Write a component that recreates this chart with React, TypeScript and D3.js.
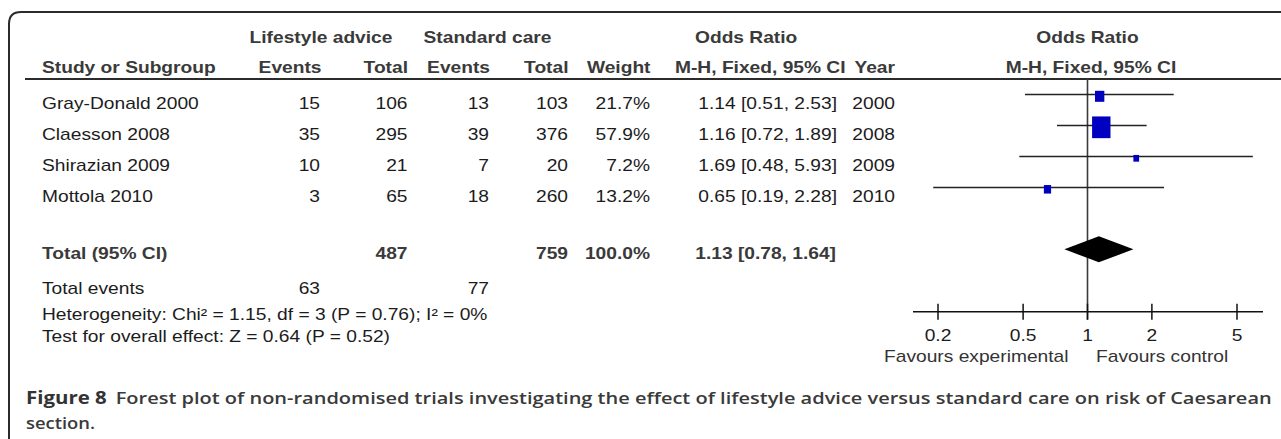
import React from 'react'
import * as d3 from 'd3'

const studies = ['Gray-Donald 2000', 'Claesson 2008', 'Shirazian 2009', 'Mottola 2010']
const expEvents = [15, 35, 10, 3]
const expTotal = [106, 295, 21, 65]
const ctrlEvents = [13, 39, 7, 18]
const ctrlTotal = [103, 376, 20, 260]
const weights = [21.7, 57.9, 7.2, 13.2]
const orMid = [1.14, 1.16, 1.69, 0.65]
const orLow = [0.51, 0.72, 0.48, 0.19]
const orHigh = [2.53, 1.89, 5.93, 2.28]
const years = [2000, 2008, 2009, 2010]

const totalN = [487, 759]
const totalWeight = 100.0
const totalOR = [1.13, 0.78, 1.64] // mid, low, high
const totalEvents = [63, 77]
const axisTicks = [0.2, 0.5, 1, 2, 5]

const width = 1281
const height = 439
const fnt = '"Liberation Sans", Arial, Helvetica, sans-serif'

function T(props: any) {
    const { x, y, anchor, bold, children, fill } = props
    return (
        <text
            transform={'translate(' + x + ',' + y + ') scale(1.2,1)'}
            textAnchor={anchor || 'start'}
            fontFamily={fnt}
            fontSize={16}
            fontWeight={bold ? 'bold' : 'normal'}
            fill={fill || (bold ? '#3a3a3a' : '#1c1c1c')}
        >
            {children}
        </text>
    )
}

const ci = (m: number, l: number, h: number) =>
    m.toFixed(2) + ' [' + l.toFixed(2) + ', ' + h.toFixed(2) + ']'

export default function App() {
    const x = d3.scaleLog().domain([0.2, 5]).range([938, 1237])
    const y = d3.scaleLinear().domain([0, 3]).range([94.5, 187.5])
    const box = d3.scaleLinear()
        .domain(d3.extent(weights) as [number, number])
        .range([5.7, 18.4])

    const totalY = 249.3
    const axisY = 311.7
    const x1 = x(1)

    const diamond = d3.line()([
        [x(totalOR[1]), totalY],
        [x(totalOR[0]), totalY - 13],
        [x(totalOR[2]), totalY],
        [x(totalOR[0]), totalY + 13],
    ]) + 'Z'

    return (
        <svg width={width} height={height}
            style={{ position: 'absolute', left: 0, top: 0, background: '#fff' }}>
            {/* frame */}
            <path d="M9,445 L9,24 Q9,12 21,12 L1290,12" fill="none" stroke="#2b2b2b" strokeWidth={2} />

            {/* headers */}
            <T x={321} y={43} anchor="middle" bold>Lifestyle advice</T>
            <T x={487.5} y={43} anchor="middle" bold>Standard care</T>
            <T x={695} y={43} bold>Odds Ratio</T>
            <T x={1087.5} y={43} anchor="middle" bold>Odds Ratio</T>
            <T x={42} y={72.5} bold>Study or Subgroup</T>
            <T x={321.5} y={72.5} anchor="end" bold>Events</T>
            <T x={408} y={72.5} anchor="end" bold>Total</T>
            <T x={490} y={72.5} anchor="end" bold>Events</T>
            <T x={568.5} y={72.5} anchor="end" bold>Total</T>
            <T x={650.5} y={72.5} anchor="end" bold>Weight</T>
            <T x={675} y={72.5} bold>M-H, Fixed, 95% CI</T>
            <T x={895} y={72.5} anchor="end" bold>Year</T>
            <T x={1091} y={72.5} anchor="middle" bold>M-H, Fixed, 95% CI</T>
            <line x1={25} x2={1281} y1={79} y2={79} stroke="#2b2b2b" strokeWidth={2} />

            {/* study rows */}
            {studies.map((s, i) => {
                const ty = y(i) + 14
                return (
                    <g key={s}>
                        <T x={42} y={ty}>{s}</T>
                        <T x={320} y={ty} anchor="end">{expEvents[i]}</T>
                        <T x={407.5} y={ty} anchor="end">{expTotal[i]}</T>
                        <T x={489} y={ty} anchor="end">{ctrlEvents[i]}</T>
                        <T x={568} y={ty} anchor="end">{ctrlTotal[i]}</T>
                        <T x={650} y={ty} anchor="end">{weights[i].toFixed(1) + '%'}</T>
                        <T x={837} y={ty} anchor="end">{ci(orMid[i], orLow[i], orHigh[i])}</T>
                        <T x={895} y={ty} anchor="end">{years[i]}</T>
                    </g>
                )
            })}

            {/* total row */}
            <T x={42} y={258.5} bold>Total (95% CI)</T>
            <T x={407.5} y={258.5} anchor="end" bold>{totalN[0]}</T>
            <T x={568} y={258.5} anchor="end" bold>{totalN[1]}</T>
            <T x={650} y={258.5} anchor="end" bold>{totalWeight.toFixed(1) + '%'}</T>
            <T x={836} y={258.5} anchor="end" bold>{ci(totalOR[0], totalOR[1], totalOR[2])}</T>

            <T x={42} y={294}>Total events</T>
            <T x={320} y={294} anchor="end">{totalEvents[0]}</T>
            <T x={489} y={294} anchor="end">{totalEvents[1]}</T>
            <T x={42} y={320}>Heterogeneity: Chi² = 1.15, df = 3 (P = 0.76); I² = 0%</T>
            <T x={42} y={342}>Test for overall effect: Z = 0.64 (P = 0.52)</T>

            {/* plot */}
            <line x1={x1} x2={x1} y1={79} y2={axisY + 8} stroke="#3a3a3a" strokeWidth={1.6} />
            {studies.map((s, i) => {
                const w = box(weights[i])
                const h = w * 1.18
                return (
                    <g key={'p' + s}>
                        <line x1={x(orLow[i])} x2={x(orHigh[i])} y1={y(i)} y2={y(i)}
                            stroke="#222" strokeWidth={1.5} />
                        <rect x={x(orMid[i]) - w / 2} y={y(i) + 1.8 - h / 2}
                            width={w} height={h} fill="#0000c0" />
                    </g>
                )
            })}
            <path d={diamond} fill="#000" />

            {/* axis */}
            <line x1={x(0.2) - 25} x2={x(5) + 26} y1={axisY} y2={axisY} stroke="#111" strokeWidth={1.5} />
            {axisTicks.map(t => (
                <g key={t}>
                    <line x1={x(t)} x2={x(t)} y1={axisY - 8} y2={axisY + 8} stroke="#111" strokeWidth={1.5} />
                    <T x={x(t)} y={341} anchor="middle">{String(t)}</T>
                </g>
            ))}
            <T x={x1 - 19} y={362} anchor="end" fill="#333">Favours experimental</T>
            <T x={x1 + 8.5} y={362} fill="#333">Favours control</T>

            {/* caption */}
            <text x={26} y={404} fontFamily='"Open Sans", sans-serif' fontSize={17} fontWeight={700}
                fill="#333" textLength={80.7} lengthAdjust="spacingAndGlyphs">Figure 8</text>
            <text x={115.7} y={404} fontFamily='"Open Sans", sans-serif' fontSize={17} fontWeight={600}
                fill="#3a3a3a" textLength={1156} lengthAdjust="spacingAndGlyphs">
                Forest plot of non-randomised trials investigating the effect of lifestyle advice versus standard care on risk of Caesarean
            </text>
            <text x={26} y={428.5} fontFamily='"Open Sans", sans-serif' fontSize={17} fontWeight={600}
                fill="#3a3a3a" textLength={69} lengthAdjust="spacingAndGlyphs">section.</text>
        </svg>
    )
}
